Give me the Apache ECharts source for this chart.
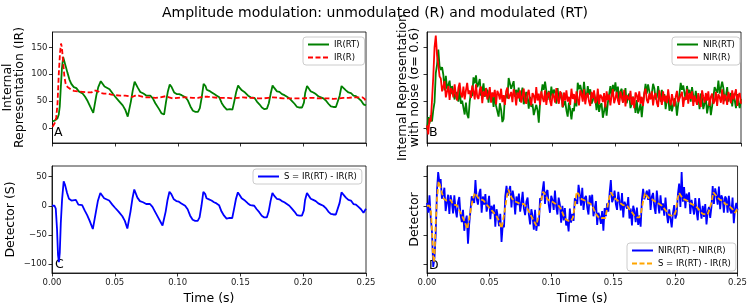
<!DOCTYPE html>
<html>
<head>
<meta charset="utf-8">
<script src="https://cdn.jsdelivr.net/npm/echarts@6/dist/echarts.min.js"></script>
<style>
  html, body { margin: 0; padding: 0; background: #fff; }
  #chart { width: 750px; height: 306px; }
</style>
</head>
<body>
<div id="chart"></div>
<script>
// ---- values ----
const timeTicks = [0, 0.05, 0.1, 0.15, 0.2, 0.25];
const irTicks = [0, 50, 100, 150];
const detTicks = [-100, -50, 0, 50];

// IR(R): unmodulated internal representation
const tR = [0, 0.001, 0.002, 0.003, 0.004, 0.005, 0.006, 0.0068, 0.0075, 0.0085, 0.0095, 0.0105, 0.012, 0.0135, 0.015, 0.017, 0.02, 0.024, 0.028, 0.031, 0.0335, 0.035, 0.0365, 0.0385, 0.041, 0.044, 0.047, 0.05, 0.054, 0.058, 0.061, 0.064, 0.066, 0.068, 0.07, 0.074, 0.078, 0.082, 0.086, 0.09, 0.093, 0.096, 0.1, 0.104, 0.108, 0.112, 0.116, 0.12, 0.124, 0.128, 0.132, 0.136, 0.14, 0.144, 0.148, 0.152, 0.156, 0.16, 0.164, 0.168, 0.172, 0.176, 0.18, 0.184, 0.188, 0.192, 0.196, 0.2, 0.204, 0.208, 0.212, 0.216, 0.22, 0.224, 0.228, 0.232, 0.236, 0.24, 0.244, 0.247, 0.249, 0.25];
const irR = [2, 6, 10, 20, 45, 100, 140, 157, 150, 122, 95, 82, 76, 73, 71, 69, 68, 67, 66, 66, 70, 71, 68, 65, 64, 64, 62, 61, 60, 60, 59, 58, 60, 61, 59, 57, 57, 56, 57, 59, 57, 55, 56, 57, 57, 56, 56, 58, 58, 57, 56, 56, 56, 55, 56, 57, 56, 56, 55, 55, 56, 57, 56, 55, 55, 55, 55, 55, 56, 56, 55, 55, 55, 54, 55, 56, 56, 57, 57, 57, 54, 47];

// IR(RT): modulated internal representation
const tRT = [0, 0.001, 0.002, 0.003, 0.004, 0.005, 0.0058, 0.0065, 0.0075, 0.0085, 0.009, 0.0095, 0.0105, 0.012, 0.0135, 0.015, 0.017, 0.019, 0.021, 0.0225, 0.024, 0.026, 0.028, 0.03, 0.0325, 0.0335, 0.035, 0.0365, 0.0385, 0.04, 0.0415, 0.043, 0.0455, 0.048, 0.05, 0.053, 0.056, 0.058, 0.06, 0.061, 0.0625, 0.064, 0.0655, 0.067, 0.068, 0.07, 0.0725, 0.075, 0.078, 0.08, 0.082, 0.085, 0.087, 0.088, 0.089, 0.0905, 0.092, 0.0935, 0.095, 0.097, 0.099, 0.101, 0.103, 0.106, 0.108, 0.11, 0.112, 0.114, 0.116, 0.1175, 0.119, 0.1205, 0.122, 0.123, 0.125, 0.127, 0.129, 0.131, 0.133, 0.135, 0.137, 0.139, 0.1415, 0.1435, 0.145, 0.1465, 0.148, 0.1495, 0.151, 0.153, 0.156, 0.158, 0.161, 0.163, 0.165, 0.167, 0.169, 0.171, 0.1725, 0.174, 0.1755, 0.177, 0.179, 0.181, 0.183, 0.185, 0.187, 0.189, 0.191, 0.193, 0.195, 0.197, 0.199, 0.2005, 0.2015, 0.203, 0.2045, 0.206, 0.208, 0.21, 0.212, 0.214, 0.216, 0.218, 0.22, 0.222, 0.224, 0.226, 0.2275, 0.229, 0.2305, 0.232, 0.234, 0.236, 0.238, 0.24, 0.242, 0.244, 0.246, 0.248, 0.249, 0.25];
const irRT = [12, 13, 14, 15, 18, 25, 40, 70, 110, 132, 134, 130, 115, 102, 90, 82, 76, 74, 68, 66, 64, 58, 50, 40, 28, 29, 61, 76, 87, 84, 77, 76, 72, 64, 58, 50, 42, 34, 21, 24, 49, 70, 86, 86, 75, 67, 64, 60, 60, 55, 46, 35, 27, 24, 25, 48, 68, 81, 76, 66, 63, 63, 61, 57, 51, 40, 32, 30, 30, 37, 57, 82, 78, 71, 69, 66, 63, 60, 57, 46, 39, 34, 35, 34, 50, 67, 79, 74, 70, 67, 60, 57, 56, 49, 44, 38, 35, 36, 46, 64, 79, 74, 68, 67, 63, 61, 58, 55, 50, 45, 39, 38, 38, 47, 65, 78, 75, 68, 66, 63, 59, 57, 55, 51, 45, 40, 39, 39, 42, 60, 78, 77, 70, 66, 65, 60, 59, 55, 51, 44, 45, 42];

// S = IR(RT) - IR(R): detector output
const tS = [0, 0.002, 0.003, 0.004, 0.0048, 0.0055, 0.0062, 0.007, 0.008, 0.0093, 0.0105, 0.012, 0.0135, 0.0155, 0.017, 0.019, 0.021, 0.0225, 0.024, 0.026, 0.028, 0.03, 0.0325, 0.0335, 0.035, 0.0365, 0.0385, 0.04, 0.0415, 0.043, 0.0455, 0.048, 0.05, 0.053, 0.056, 0.058, 0.06, 0.061, 0.0625, 0.064, 0.0655, 0.067, 0.068, 0.07, 0.0725, 0.075, 0.078, 0.08, 0.082, 0.085, 0.087, 0.088, 0.089, 0.0905, 0.092, 0.0935, 0.095, 0.097, 0.099, 0.101, 0.103, 0.106, 0.108, 0.11, 0.112, 0.114, 0.116, 0.1175, 0.119, 0.1205, 0.122, 0.123, 0.125, 0.127, 0.129, 0.131, 0.133, 0.135, 0.137, 0.139, 0.1415, 0.1435, 0.145, 0.1465, 0.148, 0.1495, 0.151, 0.153, 0.156, 0.158, 0.161, 0.163, 0.165, 0.167, 0.169, 0.171, 0.1725, 0.174, 0.1755, 0.177, 0.179, 0.181, 0.183, 0.185, 0.187, 0.189, 0.191, 0.193, 0.195, 0.197, 0.199, 0.2005, 0.2015, 0.203, 0.2045, 0.206, 0.208, 0.21, 0.212, 0.214, 0.216, 0.218, 0.22, 0.222, 0.224, 0.226, 0.2275, 0.229, 0.2305, 0.232, 0.234, 0.236, 0.238, 0.24, 0.242, 0.244, 0.246, 0.248, 0.249, 0.25];
const sDiff = [0, 0, -5, -40, -85, -97, -80, -30, 10, 42, 35, 22, 12, 9, 7, 10, 2, -1, 1, -8, -16, -26, -40, -41, -10, 8, 22, 20, 13, 12, 9, 2, -3, -10, -18, -26, -39, -36, -10, 12, 28, 26, 14, 8, 6, 3, 3, -2, -10, -22, -30, -34, -33, -10, 10, 24, 20, 11, 8, 7, 4, 0, -6, -17, -24, -26, -26, -20, 0, 24, 20, 13, 11, 9, 6, 4, 1, -10, -17, -22, -21, -21, -5, 12, 23, 18, 13, 10, 4, 1, 0, -6, -11, -17, -20, -20, -10, 8, 22, 17, 12, 11, 8, 6, 3, 0, -5, -10, -16, -17, -17, -8, 10, 22, 19, 12, 10, 8, 4, 2, 0, -4, -10, -14, -15, -15, -13, 5, 23, 21, 14, 10, 9, 3, 2, -2, -6, -12, -9, -5];

// noisy versions, one value per sample (1 ms apart)
const sampleStep = 0.001;
const nirRT = [-4, 20, 8, 24, 12, 33, 48, 102, 118, 146, 115,
  108, 113, 99, 70, 97, 72, 72, 88, 63, 78,
  78, 53, 67, 70, 49, 74, 45, 51, 52, 25,
  47, 25, 18, 49, 65, 59, 94, 83, 98, 76,
  82, 91, 60, 69, 83, 58, 74, 69, 47, 71,
  54, 62, 39, 63, 41, 44, 21, 46, 34, 11,
  17, 56, 63, 55, 93, 94, 73, 73, 87, 58,
  71, 59, 75, 49, 61, 75, 44, 52, 67, 59,
  36, 58, 39, 45, 24, 25, 43, 33, 10, 47,
  48, 81, 71, 86, 87, 52, 69, 52, 77, 59,
  71, 67, 45, 74, 49, 58, 66, 38, 39, 50,
  33, 21, 47, 34, 16, 37, 31, 58, 40, 84,
  72, 80, 77, 58, 86, 62, 56, 78, 62, 72,
  45, 51, 65, 54, 33, 57, 30, 42, 46, 19,
  31, 45, 23, 47, 48, 78, 58, 80, 68, 85,
  64, 77, 49, 68, 73, 48, 55, 74, 46, 58,
  64, 37, 44, 58, 50, 28, 52, 27, 34, 45,
  20, 45, 48, 82, 64, 81, 83, 56, 64, 82,
  74, 53, 57, 78, 62, 49, 71, 53, 63, 35,
  54, 59, 32, 48, 31, 33, 55, 48, 23, 44,
  44, 84, 71, 79, 81, 52, 78, 64, 71, 49,
  76, 60, 49, 69, 52, 60, 35, 64, 55, 35,
  36, 57, 27, 41, 49, 24, 40, 41, 76, 79,
  65, 88, 64, 67, 86, 74, 50, 60, 76, 49,
  60, 65, 40, 64, 51, 37, 63, 47, 37, 54];
const nirR = [5, -12, 18, 12, 52, 95, 150, 172, 135, 118, 96,
  92, 68, 77, 87, 57, 68, 78, 52, 74, 69,
  57, 81, 62, 51, 75, 84, 63, 57, 77, 53,
  70, 84, 63, 70, 56, 79, 69, 53, 81, 58,
  54, 71, 77, 46, 68, 59, 74, 53, 62, 76,
  47, 66, 58, 71, 44, 69, 63, 53, 73, 48,
  61, 43, 68, 75, 54, 52, 67, 48, 72, 63,
  42, 66, 55, 70, 47, 58, 73, 51, 45, 63,
  71, 52, 42, 65, 60, 46, 76, 51, 64, 43,
  68, 57, 48, 70, 43, 61, 67, 50, 41, 64,
  59, 47, 74, 54, 45, 68, 61, 39, 66, 51,
  70, 49, 58, 43, 73, 54, 63, 46, 68, 54,
  42, 70, 63, 49, 72, 44, 60, 65, 49, 41,
  67, 55, 70, 46, 51, 73, 44, 62, 58, 48,
  65, 38, 68, 52, 62, 42, 60, 72, 46, 55,
  67, 51, 43, 68, 57, 47, 71, 40, 61, 64,
  52, 69, 43, 58, 37, 66, 61, 48, 68, 45,
  58, 41, 65, 73, 52, 46, 64, 53, 68, 42,
  60, 65, 47, 39, 70, 56, 43, 68, 49, 60,
  46, 72, 53, 42, 63, 66, 40, 58, 69, 48,
  45, 61, 67, 39, 58, 52, 72, 45, 65, 54,
  68, 41, 60, 62, 43, 65, 49, 39, 70, 58,
  47, 65, 51, 68, 41, 58, 64, 45, 50, 67,
  41, 63, 57, 47, 72, 44, 62, 58, 43, 67,
  65, 46, 70, 53, 50, 72, 41, 61, 65, 45];
const nDiff = [5, -12, 18, -20, -45, -105, -90, -50, 25, 58, 40,
  46, 12, 19, 31, -9, 5, 19, -14, 18, 6,
  -13, 18, -7, -20, 6, 15, -16, -28, -7, -43,
  -26, -17, -65, -31, -30, 16, 17, 5, 44, 12,
  2, 21, 29, -12, 16, 2, 20, -10, 1, 17,
  -23, 0, -13, 2, -36, -6, -18, -35, -14, -62,
  -33, -37, 16, 34, 17, 18, 34, -3, 26, 13,
  -15, 16, 1, 21, -10, 4, 24, -5, -16, 7,
  14, -15, -32, -6, -18, -41, -7, -43, -26, -35,
  13, 9, 8, 42, 3, 23, 27, 2, -12, 17,
  10, -7, 26, -1, -15, 14, 2, -29, 0, -25,
  -4, -34, -24, -44, -5, -29, -14, -26, 13, 15,
  3, 36, 20, 0, 31, -7, 13, 17, -3, -15,
  18, 1, 19, -18, -17, 8, -33, -12, -19, -31,
  -9, -43, -4, -18, 4, -10, 22, 44, 6, 12,
  26, 3, -7, 24, 7, -8, 22, -20, 7, 10,
  -5, 15, -22, -5, -34, 0, -9, -28, -3, -33,
  -17, -36, 10, 29, 11, 8, 26, 10, 28, -7,
  16, 22, -2, -14, 26, 5, -13, 18, -8, 4,
  -17, 14, -13, -30, -6, -3, -37, -13, 1, -22,
  -15, 20, 38, -2, 58, 7, 32, -4, 21, 7,
  23, -14, 10, 11, -15, 13, -10, -25, 13, -6,
  -22, 0, -19, 3, -32, -10, -2, -21, -2, 34,
  3, 30, 18, 2, 33, -6, 18, 12, -12, 16,
  12, -12, 17, -7, -13, 14, -30, -5, 5, -8];

// ---- helpers ----
const font = 'DejaVu Sans';
function pairs(ts, vs) { return vs.map((v, i) => [ts[i], v]); }
function sampled(vs) { return vs.map((v, i) => [+(i * sampleStep).toFixed(3), v]); }
function minus(v) { return String(v).replace('-', '\u2212'); }

function xAx(grid, labels, name) {
  return {
    type: 'value', gridIndex: grid, min: 0, max: 0.25, interval: 0.05,
    name: name || '', nameLocation: 'middle', nameGap: 19,
    nameTextStyle: { fontFamily: font, fontSize: 12.5, color: '#000' },
    axisLine: { onZero: false, lineStyle: { color: '#000', width: 0.8 } },
    axisTick: { show: true, length: 3.5, lineStyle: { color: '#000', width: 0.8 } },
    axisLabel: { show: labels, fontFamily: font, fontSize: 8.5, color: '#222', margin: 5,
      formatter: v => v.toFixed(2) },
    splitLine: { show: false }
  };
}
function yAx(grid, lo, hi, ticks, labels, name, gap) {
  return {
    type: 'value', gridIndex: grid, min: lo, max: hi,
    name: name, nameLocation: 'middle', nameGap: gap, nameRotate: 90,
    nameTextStyle: { fontFamily: font, fontSize: 12.5, color: '#000', lineHeight: 12 },
    axisLine: { show: true, onZero: false, lineStyle: { color: '#000', width: 0.8 } },
    axisTick: { show: true, length: 3.5, customValues: ticks, lineStyle: { color: '#000', width: 0.8 } },
    axisLabel: { show: labels, customValues: ticks, fontFamily: font, fontSize: 8.5, color: '#222', margin: 5,
      formatter: minus },
    splitLine: { show: false }
  };
}
function leg(names, left, top) {
  return {
    data: names, orient: 'vertical', left: left, top: top,
    itemWidth: 21, itemHeight: 8, itemGap: 4, padding: [3, 5, 3, 4],
    backgroundColor: 'rgba(255,255,255,0.8)', borderColor: '#cccccc', borderWidth: 1, borderRadius: 3,
    selectedMode: false,
    itemStyle: { opacity: 0 },
    textStyle: { fontFamily: font, fontSize: 8.5, color: '#000' },
    formatter: n => n.trim()
  };
}
function line(name, xi, data, color, width, dashed) {
  return {
    name: name, type: 'line', xAxisIndex: xi, yAxisIndex: xi, data: data,
    symbol: 'none', animation: false,
    lineStyle: { color: color, width: width, type: dashed ? [5, 2.5] : 'solid' },
    itemStyle: { color: color }
  };
}
function letter(ch, x, y) {
  return { type: 'text', left: x, top: y, style: { text: ch, fontFamily: font, fontSize: 12.5, fill: '#000' } };
}

const chart = echarts.init(document.getElementById('chart'));
chart.setOption({
  backgroundColor: '#fff',
  animation: false,
  title: {
    text: 'Amplitude modulation: unmodulated (R) and modulated (RT)',
    left: 'center', top: 1,
    textStyle: { fontFamily: font, fontSize: 14, fontWeight: 'normal', color: '#000' }
  },
  grid: [
    { left: 52, top: 32, width: 314, height: 111, show: true, borderColor: '#000', borderWidth: 0.8 },
    { left: 427, top: 32, width: 314, height: 111, show: true, borderColor: '#000', borderWidth: 0.8 },
    { left: 52, top: 166, width: 314, height: 110, show: true, borderColor: '#000', borderWidth: 0.8 },
    { left: 427, top: 166, width: 314, height: 110, show: true, borderColor: '#000', borderWidth: 0.8 }
  ],
  xAxis: [xAx(0, false), xAx(1, false), xAx(2, true, 'Time (s)'), xAx(3, true, 'Time (s)')],
  yAxis: [
    yAx(0, -28, 178.5, irTicks, true, 'Internal\nRepresentation (IR)', 27),
    yAx(1, -28, 178.5, irTicks, false, 'Internal Representation\nwith noise (\u03c3= 0.6)', 6),
    yAx(2, -115.5, 68.3, detTicks, true, 'Detector (S)', 35),
    yAx(3, -115.5, 68.3, detTicks, false, 'Detector', 6)
  ],
  legend: [
    leg(['IR(RT)', 'IR(R)'], 303, 37),
    leg(['NIR(RT)', 'NIR(R)'], 672, 37),
    leg(['S = IR(RT) - IR(R)'], 253, 169),
    leg(['NIR(RT) - NIR(R)', 'S = IR(RT) - IR(R) '], 627, 243)
  ],
  series: [
    line('IR(RT)', 0, pairs(tRT, irRT), '#008000', 1.8, false),
    line('IR(R)', 0, pairs(tR, irR), '#ff0000', 1.8, true),
    line('NIR(RT)', 1, sampled(nirRT), '#008000', 1.8, false),
    line('NIR(R)', 1, sampled(nirR), '#ff0000', 1.8, false),
    line('S = IR(RT) - IR(R)', 2, pairs(tS, sDiff), '#0000ff', 1.8, false),
    line('NIR(RT) - NIR(R)', 3, sampled(nDiff), '#0000ff', 1.8, false),
    line('S = IR(RT) - IR(R) ', 3, pairs(tS, sDiff), '#ffa500', 1.8, true)
  ],
  graphic: [letter('A', 54, 126.5), letter('B', 429, 126.5), letter('C', 55, 258.5), letter('D', 429, 259.5)]
});
</script>
</body>
</html>
